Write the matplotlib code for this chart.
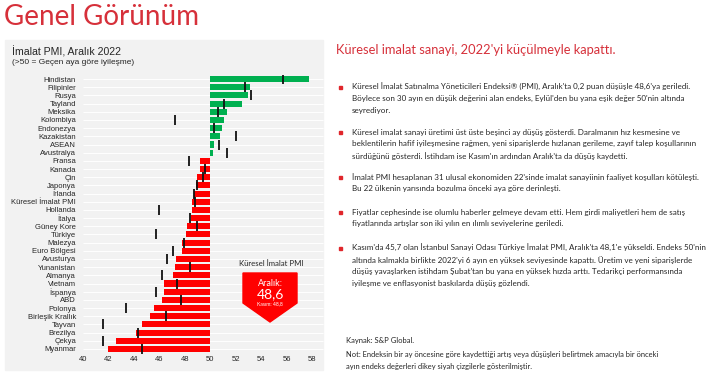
import matplotlib.pyplot as plt
from matplotlib.patches import Rectangle, Polygon

countries = ["Hindistan", "Filipinler", "Rusya", "Tayland", "Meksika", "Kolombiya",
             "Endonezya", "Kazakistan", "ASEAN", "Avustralya", "Fransa", "Kanada",
             "Çin", "Japonya", "İrlanda", "Küresel İmalat PMI", "Hollanda", "İtalya",
             "Güney Kore", "Türkiye", "Malezya", "Euro Bölgesi", "Avusturya",
             "Yunanistan", "Almanya", "Vietnam", "İspanya", "ABD", "Polonya",
             "Birleşik Krallık", "Tayvan", "Brezilya", "Çekya", "Myanmar"]
aralik = [57.8, 53.1, 53.0, 52.5, 51.3, 51.1, 50.9, 50.8, 50.3, 50.2, 49.2, 49.2,
          49.0, 48.9, 48.7, 48.6, 48.6, 48.5, 48.2, 48.1, 47.8, 47.8, 47.3,
          47.2, 47.1, 46.4, 46.4, 46.2, 45.6, 45.3, 44.6, 44.2, 42.6, 42.0]
kasim = [55.7, 52.7, 53.2, 51.1, 50.6, 47.2, 50.3, 52.0, 50.7, 51.3, 48.3, 49.6,
         49.4, 49.0, 48.7, 48.8, 46.0, 48.4, 49.0, 45.7, 47.9, 47.1, 46.6,
         48.4, 46.2, 47.4, 45.7, 47.7, 43.4, 46.5, 41.6, 44.3, 41.6, 44.6]
xticks = list(range(40, 59, 2))

bullets = [
    ["Küresel İmalat Satınalma Yöneticileri Endeksi® (PMI), Aralık'ta 0,2 puan düşüşle 48,6'ya geriledi.",
     "Böylece son 30 ayın en düşük değerini alan endeks, Eylül'den bu yana eşik değer 50'nin altında",
     "seyrediyor."],
    ["Küresel imalat sanayi üretimi üst üste beşinci ay düşüş gösterdi. Daralmanın hız kesmesine ve",
     "beklentilerin hafif iyileşmesine rağmen, yeni siparişlerde hızlanan gerileme, zayıf talep koşullarının",
     "sürdüğünü gösterdi. İstihdam ise Kasım'ın ardından Aralık'ta da düşüş kaydetti."],
    ["İmalat PMI hesaplanan 31 ulusal ekonomiden 22'sinde imalat sanayiinin faaliyet koşulları kötüleşti.",
     "Bu 22 ülkenin yarısında bozulma önceki aya göre derinleşti."],
    ["Fiyatlar cephesinde ise olumlu haberler gelmeye devam etti. Hem girdi maliyetleri hem de satış",
     "fiyatlarında artışlar son iki yılın en ılımlı seviyelerine geriledi."],
    ["Kasım'da 45,7 olan İstanbul Sanayi Odası Türkiye İmalat PMI, Aralık'ta 48,1'e yükseldi. Endeks 50'nin",
     "altında kalmakla birlikte 2022'yi 6 ayın en yüksek seviyesinde kapattı. Üretim ve yeni siparişlerde",
     "düşüş yavaşlarken istihdam Şubat'tan bu yana en yüksek hızda arttı. Tedarikçi performansında",
     "iyileşme ve enflasyonist baskılarda düşüş gözlendi."],
]
bullet_tops = [87, 132, 177, 212, 248]
notes = ["Not: Endeksin bir ay öncesine göre kaydettiği artış veya düşüşleri belirtmek amacıyla bir önceki",
         "ayın endeks değerleri dikey siyah çizgilerle gösterilmiştir."]

W, H = 720, 375
RED = "#e0262b"
TXT = "#262626"


def fx(x):
    return x / W


def fy(y):
    return 1 - y / H


fig = plt.figure(figsize=(7.2, 3.75), dpi=100)
fig.patch.set_facecolor("white")

# grey panel behind the chart
fig.patches.append(Rectangle((fx(5), fy(370)), 318 / W, 330 / H, transform=fig.transFigure,
                             color="#f2f2f2", zorder=-5))

fig.text(fx(4), fy(17), "Genel Görünüm", color="#d6303a", fontsize=20, family="Lato",
         va="center", ha="left")
fig.text(fx(12), fy(52), "İmalat PMI, Aralık 2022", color=TXT, fontsize=7.6,
         family="Liberation Sans", va="center")
fig.text(fx(12), fy(62.5), "(>50 = Geçen aya göre iyileşme)", color=TXT, fontsize=6,
         family="Liberation Sans", va="center")

ax = fig.add_axes([fx(83), fy(353), 229 / W, 278 / H])
ax.set_facecolor("none")
ypos = list(range(len(countries)))
ax.hlines(ypos, 40, 58.9, color="white", lw=0.7, zorder=0, clip_on=False)
colors = ["#00b050" if v >= 50 else "#ff0000" for v in aralik]
ax.barh(ypos, [v - 50 for v in aralik], left=50, height=0.74, color=colors, zorder=2)
ax.plot(kasim, ypos, ls="none", marker="|", ms=6.5, mew=1.3, color="#111111", zorder=3)
ax.set_xlim(40, 58)
ax.set_ylim(len(countries) - 0.5, -0.5)
ax.set_xticks(xticks)
ax.set_yticks(ypos)
ax.set_yticklabels(countries)
ax.tick_params(length=0, labelsize=5.5, labelcolor=TXT)
ax.tick_params(axis="y", pad=5)
ax.tick_params(axis="x", pad=2.5)
for lab in ax.get_xticklabels() + ax.get_yticklabels():
    lab.set_family("Liberation Sans")
for s in ax.spines.values():
    s.set_visible(False)

# callout for the global PMI
fig.text(fx(271), fy(264), "Küresel İmalat PMI", fontsize=5.6, family="Lato", color=TXT,
         ha="center", va="center")
pts = [(243, 273), (297, 273), (297, 303), (270, 322), (243, 303)]
fig.patches.append(Polygon([(fx(x), fy(y)) for x, y in pts], closed=True,
                           transform=fig.transFigure, color="#ff0000", zorder=2))
fig.text(fx(270), fy(283), "Aralık:", fontsize=6.5, family="Lato", color="white",
         ha="center", va="center", zorder=3)
fig.text(fx(270), fy(294), "48,6", fontsize=10, family="Lato", color="white",
         ha="center", va="center", zorder=3)
fig.text(fx(270), fy(303.5), "Kasım: 48,8", fontsize=3.6, family="Lato", color="white",
         ha="center", va="center", zorder=3)

# right hand commentary
fig.text(fx(336), fy(50), "Küresel imalat sanayi, 2022'yi küçülmeyle kapattı.", color="#d6303a",
         fontsize=9.3, family="Lato", va="center")
for top, lines in zip(bullet_tops, bullets):
    fig.patches.append(Rectangle((fx(338.5), fy(top + 1.6)), 3 / W, 3 / H,
                                 transform=fig.transFigure, color=RED))
    for k, line in enumerate(lines):
        fig.text(fx(352), fy(top + k * 11.8), line, color=TXT, fontsize=5.8, family="Lato",
                 va="center")

fig.text(fx(346), fy(340), "Kaynak: S&P Global.", color=TXT, fontsize=5.5, family="Lato",
         va="center")
for k, line in enumerate(notes):
    fig.text(fx(346), fy(355 + k * 11), line, color=TXT, fontsize=5.45, family="Lato", va="center")

fig.savefig("out.png", dpi=100)
